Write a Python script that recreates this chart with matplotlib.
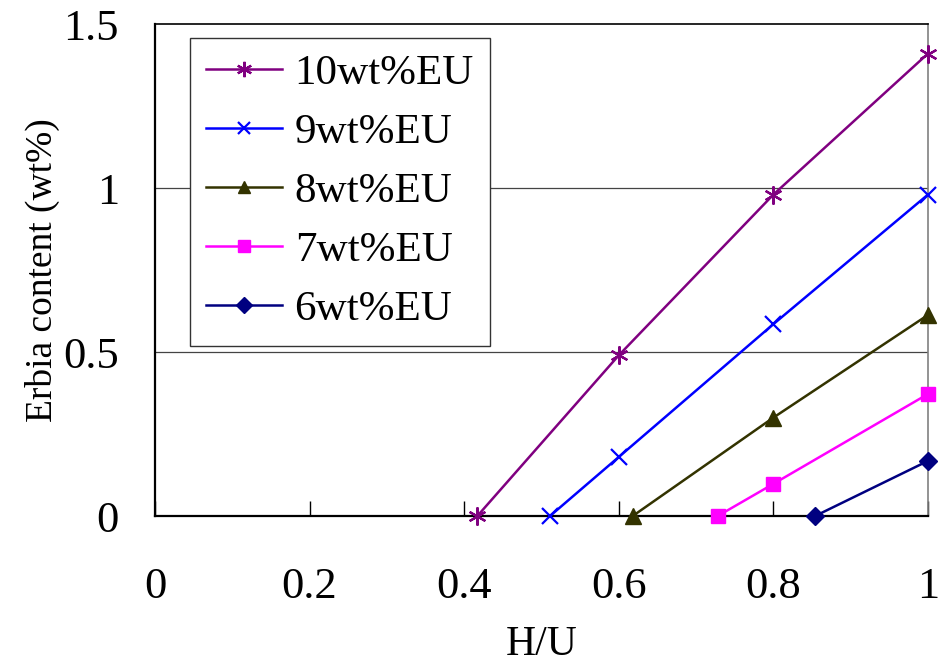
import matplotlib
matplotlib.use("Agg")
import matplotlib.pyplot as plt

# Erbia content vs H/U for several EU loadings
series_labels = ["10wt%EU", "9wt%EU", "8wt%EU", "7wt%EU", "6wt%EU"]
hu_10 = [0.417, 0.6, 0.8, 1.0]
erbia_10 = [0.0, 0.49, 0.98, 1.41]
hu_9 = [0.511, 0.6, 0.8, 1.0]
erbia_9 = [0.0, 0.18, 0.585, 0.98]
hu_8 = [0.618, 0.8, 1.0]
erbia_8 = [0.0, 0.30, 0.613]
hu_7 = [0.728, 0.8, 1.0]
erbia_7 = [0.0, 0.098, 0.372]
hu_6 = [0.854, 1.0]
erbia_6 = [0.0, 0.168]

x_ticks = [0, 0.2, 0.4, 0.6, 0.8, 1]
x_tick_labels = ["0", "0.2", "0.4", "0.6", "0.8", "1"]
y_ticks = [0, 0.5, 1, 1.5]
y_tick_labels = ["0", "0.5", "1", "1.5"]

plt.rcParams["font.family"] = ["Liberation Serif", "DejaVu Serif"]

fig = plt.figure(figsize=(9.46, 6.67), dpi=100)
ax = fig.add_axes([155 / 946, 1 - 516 / 667, (928 - 155) / 946, (516 - 24) / 667])

styles = [
    dict(color="#800080", marker=(6, 2, 0), ms=13, mew=1.6),
    dict(color="#0000FF", marker="x", ms=11, mew=1.6),
    dict(color="#333300", marker="^", ms=11, mew=1),
    dict(color="#FF00FF", marker="s", ms=10, mew=1),
    dict(color="#000080", marker="D", ms=9.5, mew=1),
]
data = [(hu_10, erbia_10), (hu_9, erbia_9), (hu_8, erbia_8),
        (hu_7, erbia_7), (hu_6, erbia_6)]

for (xs, ys), lab, st in zip(data, series_labels, styles):
    ax.plot(xs, ys, label=lab, color=st["color"], lw=1.8,
            marker=st["marker"], markersize=st["ms"],
            markeredgewidth=st["mew"], markerfacecolor=st["color"],
            markeredgecolor=st["color"], clip_on=False, zorder=3)

ax.set_xlim(0, 1)
ax.set_ylim(0, 1.5)

# horizontal gridlines
for yv in [0.5, 1.0]:
    ax.axhline(yv, color="#444444", lw=0.9, zorder=1)

ax.set_xticks(x_ticks)
ax.set_xticklabels(x_tick_labels)
ax.set_yticks(y_ticks)
ax.set_yticklabels(y_tick_labels)
ax.tick_params(axis="x", direction="in", length=11, width=1, pad=37,
               labelsize=32, colors="black")
ax.tick_params(axis="y", length=0, pad=26, labelsize=32)

for name in ["left", "bottom"]:
    ax.spines[name].set_linewidth(1.6)
    ax.spines[name].set_color("black")
ax.spines["top"].set_linewidth(1.2)
ax.spines["top"].set_color("black")
ax.spines["right"].set_linewidth(1.2)
ax.spines["right"].set_color("#808080")

ax.set_xlabel("H/U", fontsize=30, labelpad=13)
ax.set_ylabel("Erbia content (wt%)", fontsize=27, labelpad=2)

leg = ax.legend(loc="upper left", bbox_to_anchor=(35 / 773, 1 - 14 / 492),
                fontsize=31, frameon=True, fancybox=False, borderpad=0.38,
                labelspacing=0.46, handlelength=1.75, handletextpad=0.3,
                borderaxespad=0, markerscale=0.85)
leg.get_frame().set_edgecolor("#333333")
leg.get_frame().set_linewidth(1.0)
leg.get_frame().set_alpha(1)

fig.savefig("out.png", dpi=100)
